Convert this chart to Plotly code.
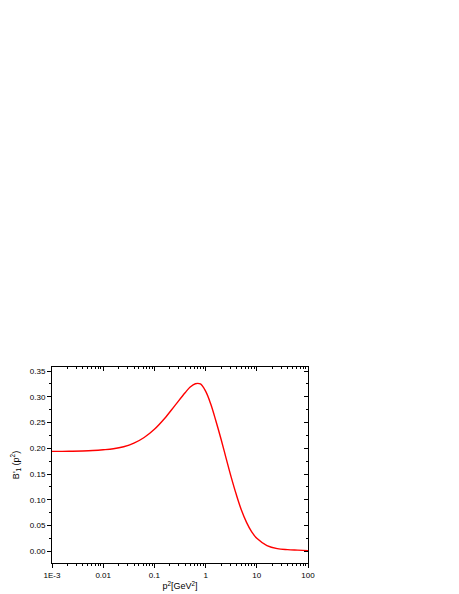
import plotly.graph_objects as go

# values
p2 = [0.001, 0.00158, 0.00251, 0.00398, 0.0063, 0.01, 0.0158, 0.0251, 0.0398, 0.063,
      0.1, 0.158, 0.251, 0.398, 0.5, 0.63, 0.79, 1.0, 1.26, 1.58, 2.0, 2.51, 3.16, 3.98,
      5.0, 6.3, 7.9, 10, 15.8, 25.1, 39.8, 63, 100]
b1 = [0.194, 0.194, 0.1943, 0.1948, 0.1956, 0.197, 0.199, 0.203, 0.210, 0.221,
      0.237, 0.258, 0.283, 0.308, 0.319, 0.3255, 0.325, 0.311, 0.286, 0.254, 0.218, 0.181, 0.144, 0.110,
      0.080, 0.056, 0.038, 0.025, 0.011, 0.005, 0.003, 0.002, 0.001]

x_ticks = [0.001, 0.01, 0.1, 1, 10, 100]
x_labels = ["1E-3", "0.01", "0.1", "1", "10", "100"]
y_ticks = [0.00, 0.05, 0.10, 0.15, 0.20, 0.25, 0.30, 0.35]
y_labels = ["0.00", "0.05", "0.10", "0.15", "0.20", "0.25", "0.30", "0.35"]

x_minor = [m * 10 ** e for e in range(-3, 2) for m in range(2, 10)]
y_minor = [0.025 + 0.05 * i for i in range(-1, 7)]

xr = [-3, 2]
yr = [-0.023, 0.358]

fig = go.Figure()
fig.add_trace(go.Scatter(x=p2, y=b1, mode="lines", line=dict(color="#ff0000", width=1.4, shape="spline", smoothing=1),
                         showlegend=False, hoverinfo="skip"))
# dummy trace so the top/right (inward-tick) axes are drawn
fig.add_trace(go.Scatter(x=[1], y=[0.1], xaxis="x2", yaxis="y2", mode="markers",
                         marker=dict(opacity=0), showlegend=False, hoverinfo="skip"))

family = "Arial, Liberation Sans, sans-serif"
font = dict(family=family, size=8, color="#000000")
ax_common = dict(showgrid=False, zeroline=False, showline=True, linecolor="#000000", linewidth=1,
                 tickcolor="#000000", tickfont=font, automargin=False)

# page body has an 8px margin, so the plot box is placed 8px up/left of its target
fig.update_layout(
    width=459, height=594,
    margin=dict(l=44, r=159, t=359, b=39),
    paper_bgcolor="white", plot_bgcolor="white",
    font=dict(family=family, color="#000000"),
    xaxis=dict(type="log", range=xr, tickmode="array", tickvals=x_ticks, ticktext=x_labels,
               ticks="outside", ticklen=4, tickwidth=1,
               minor=dict(tickmode="array", tickvals=x_minor, ticks="outside", ticklen=2, tickcolor="#000000"),
               title=dict(text="p<sup>2</sup>[GeV<sup>2</sup>]", font=dict(family=family, size=9, color="#000000"), standoff=4),
               **ax_common),
    yaxis=dict(range=yr, tickmode="array", tickvals=y_ticks, ticktext=y_labels,
               ticks="outside", ticklen=4, tickwidth=1,
               minor=dict(tickmode="array", tickvals=y_minor, ticks="outside", ticklen=2, tickcolor="#000000"),
               title=dict(text="B'<sub>1</sub> (p<sup>2</sup>)", font=dict(family=family, size=9, color="#000000"), standoff=8),
               **ax_common),
    xaxis2=dict(type="log", range=xr, overlaying="x", side="top", anchor="y",
                tickmode="array", tickvals=x_ticks, showticklabels=False,
                ticks="inside", ticklen=4,
                minor=dict(tickmode="array", tickvals=x_minor, ticks="inside", ticklen=2, tickcolor="#000000"),
                **ax_common),
    yaxis2=dict(range=yr, overlaying="y", side="right", anchor="x",
                tickmode="array", tickvals=y_ticks, showticklabels=False,
                ticks="inside", ticklen=4,
                minor=dict(tickmode="array", tickvals=y_minor, ticks="inside", ticklen=2, tickcolor="#000000"),
                **ax_common),
)

fig.write_html("out.html")
